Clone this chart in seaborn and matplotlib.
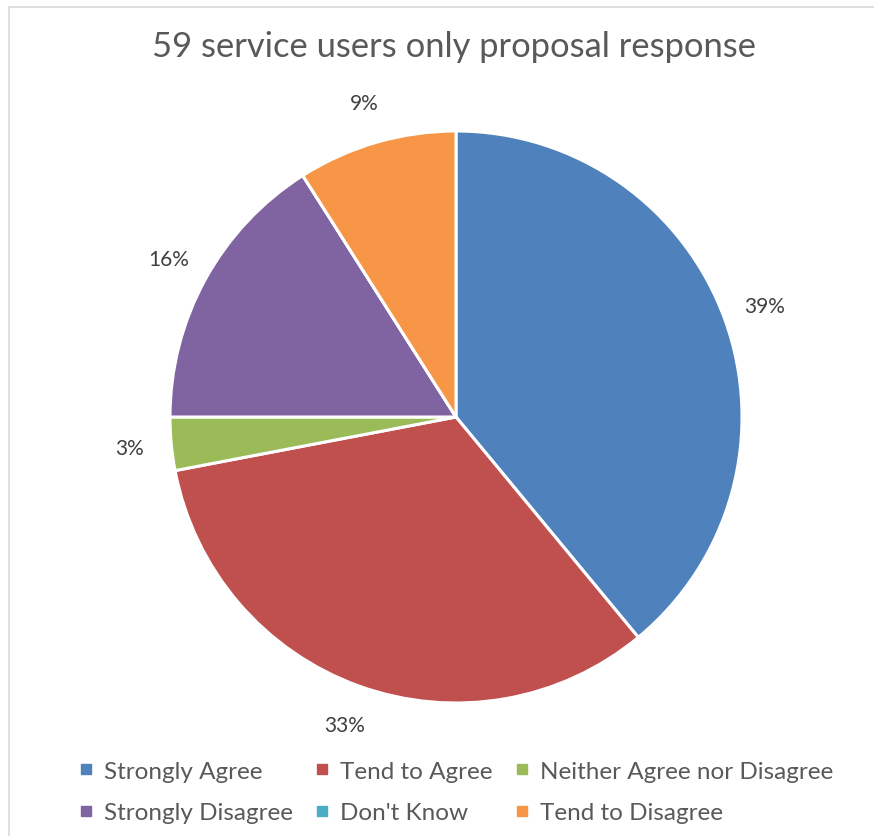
import matplotlib
matplotlib.use("Agg")
import matplotlib.pyplot as plt
from matplotlib.lines import Line2D
import seaborn as sns

categories = ["Strongly Agree", "Tend to Agree", "Neither Agree nor Disagree",
              "Strongly Disagree", "Don't Know", "Tend to Disagree"]
percentages = [39, 33, 3, 16, 0, 9]
colors = ["#4F81BD", "#C0504D", "#9BBB59", "#8064A2", "#4BACC6", "#F79646"]
title = "59 service users only proposal response"

sns.set_theme(style="white")
plt.rcParams['font.family'] = ['Lato', 'DejaVu Sans']

W, H = 874, 837
fig = plt.figure(figsize=(W / 100, H / 100), dpi=100)
fig.patch.set_facecolor("white")

cx, cy, r = 456, 418, 286
ax = fig.add_axes([(cx - r) / W, (H - cy - r) / H, 2 * r / W, 2 * r / H])
ax.set_aspect("equal")

def fmt(p):
    return "" if p < 0.5 else f"{p:.0f}%"

wedges, texts, autotexts = ax.pie(
    percentages, colors=colors, startangle=90, counterclock=False,
    autopct=fmt, pctdistance=1.145, radius=1,
    wedgeprops=dict(edgecolor="white", linewidth=2.2),
    textprops=dict(color="#404040", fontsize=15))
ax.set_xlim(-1, 1)
ax.set_ylim(-1, 1)
ax.axis("off")

fig.text(454 / W, 1 - 47 / H, title, ha="center", va="center",
         fontsize=24.8, color="#595959")

# legend (row-wise order)
order = [0, 3, 1, 4, 2, 5]
handles = [Line2D([], [], marker="s", linestyle="none", markersize=7,
                  markerfacecolor=colors[i], markeredgecolor=colors[i]) for i in order]
labels = [categories[i] for i in order]
fig.legend(handles, labels, ncol=3, loc="center", bbox_to_anchor=(456 / W, 1 - 793 / H),
           frameon=False, fontsize=17.5, labelcolor="#595959",
           handlelength=0.6, handletextpad=0.45, columnspacing=0.9, labelspacing=0.85)

# chart-area border (top and left)
fig.add_artist(Line2D([9 / W, 1], [1 - 8 / H, 1 - 8 / H], color="#D9D9D9", lw=1.2,
                      transform=fig.transFigure))
fig.add_artist(Line2D([9 / W, 9 / W], [0, 1 - 8 / H], color="#D9D9D9", lw=1.2,
                      transform=fig.transFigure))

fig.savefig("out.png", dpi=100, facecolor="white")
